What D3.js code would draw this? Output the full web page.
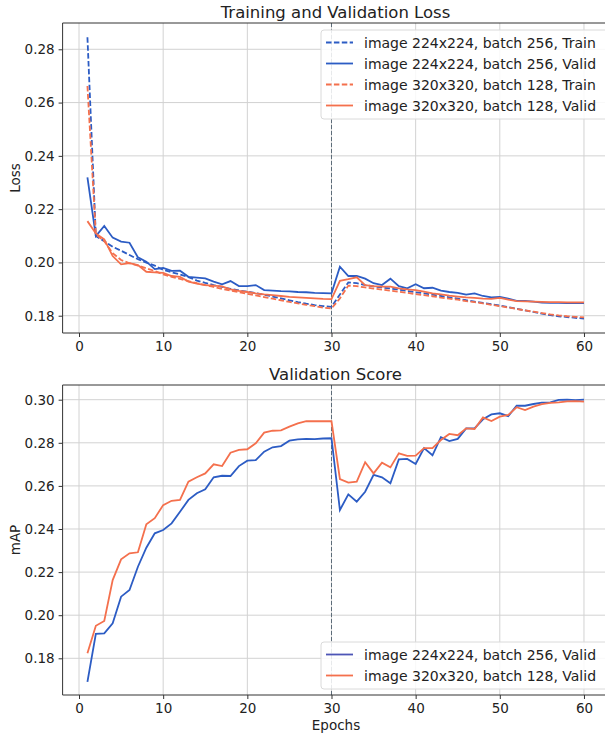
<!DOCTYPE html>
<html>
<head>
<meta charset="utf-8">
<script src="https://cdn.jsdelivr.net/npm/d3@7"></script>
<style>
  body { margin: 0; background: #fff; }
  svg { display: block; font-family: "DejaVu Sans", sans-serif; }
</style>
</head>
<body>
<div id="chart"></div>
<script>
// epochs 1..60
const epochs = d3.range(1, 61);

// loss curves
const train224 = [0.2845,0.2099,0.2080,0.2059,0.2044,0.2028,0.2012,0.1999,0.1988,0.1972,
  0.1963,0.1955,0.1945,0.1932,0.1923,0.1915,0.1908,0.1901,0.1895,0.1890,
  0.1885,0.1879,0.1872,0.1865,0.1858,0.1851,0.1845,0.1840,0.1836,0.1833,
  0.1880,0.1925,0.1922,0.1915,0.1910,0.1906,0.1902,0.1898,0.1893,0.1888,
  0.1884,0.1879,0.1874,0.1869,0.1864,0.1858,0.1853,0.1848,0.1843,0.1838,
  0.1832,0.1826,0.1820,0.1814,0.1808,0.1802,0.1798,0.1795,0.1792,0.1789];
const valid224 = [0.2319,0.2099,0.2137,0.2093,0.2078,0.2074,0.2019,0.2003,0.1975,0.1979,
  0.1968,0.1969,0.1946,0.1943,0.1940,0.1928,0.1918,0.1930,0.1911,0.1911,
  0.1915,0.1896,0.1894,0.1892,0.1891,0.1889,0.1888,0.1886,0.1885,0.1884,
  0.1984,0.1949,0.1949,0.1939,0.1922,0.1915,0.1939,0.1911,0.1903,0.1918,
  0.1903,0.1905,0.1894,0.1889,0.1886,0.1879,0.1884,0.1874,0.1869,0.1871,
  0.1864,0.1856,0.1856,0.1853,0.1849,0.1848,0.1848,0.1847,0.1847,0.1847];
const train320 = [0.2662,0.2105,0.2080,0.2035,0.2009,0.1997,0.1988,0.1978,0.1968,0.1955,
  0.1946,0.1938,0.1930,0.1922,0.1915,0.1908,0.1901,0.1894,0.1888,0.1882,
  0.1876,0.1870,0.1864,0.1858,0.1852,0.1846,0.1841,0.1836,0.1830,0.1827,
  0.1865,0.1913,0.1911,0.1906,0.1902,0.1898,0.1894,0.1890,0.1886,0.1881,
  0.1877,0.1873,0.1868,0.1864,0.1860,0.1855,0.1851,0.1846,0.1841,0.1836,
  0.1831,0.1825,0.1820,0.1815,0.1810,0.1805,0.1801,0.1798,0.1796,0.1794];
const valid320 = [0.2155,0.2109,0.2087,0.2024,0.1993,0.1997,0.1990,0.1965,0.1963,0.1961,
  0.1949,0.1946,0.1928,0.1920,0.1915,0.1913,0.1910,0.1899,0.1893,0.1889,
  0.1884,0.1880,0.1877,0.1874,0.1871,0.1869,0.1867,0.1865,0.1863,0.1862,
  0.1931,0.1937,0.1944,0.1915,0.1911,0.1909,0.1909,0.1903,0.1899,0.1896,
  0.1890,0.1884,0.1880,0.1875,0.1872,0.1869,0.1867,0.1864,0.1863,0.1867,
  0.1860,0.1855,0.1854,0.1853,0.1852,0.1851,0.1851,0.1850,0.1850,0.1850];

// mAP curves
const map224 = [0.1691,0.1913,0.1916,0.1962,0.2086,0.2117,0.2225,0.2313,0.2380,0.2395,
  0.2426,0.2480,0.2535,0.2566,0.2584,0.2640,0.2647,0.2646,0.2692,0.2717,
  0.2720,0.2759,0.2779,0.2785,0.2810,0.2816,0.2818,0.2817,0.2820,0.2821,
  0.2488,0.2561,0.2527,0.2573,0.2651,0.2640,0.2612,0.2723,0.2725,0.2702,
  0.2775,0.2742,0.2826,0.2808,0.2818,0.2867,0.2867,0.2909,0.2932,0.2937,
  0.2924,0.2972,0.2972,0.2980,0.2986,0.2988,0.2999,0.3000,0.2998,0.3000];
const map320 = [0.1823,0.1951,0.1973,0.2163,0.2259,0.2287,0.2292,0.2422,0.2450,0.2511,
  0.2531,0.2535,0.2620,0.2640,0.2658,0.2700,0.2692,0.2754,0.2767,0.2770,
  0.2798,0.2847,0.2856,0.2858,0.2875,0.2890,0.2901,0.2900,0.2900,0.2900,
  0.2632,0.2615,0.2620,0.2710,0.2658,0.2708,0.2686,0.2751,0.2739,0.2740,
  0.2775,0.2775,0.2813,0.2841,0.2835,0.2867,0.2864,0.2918,0.2901,0.2921,
  0.2929,0.2965,0.2952,0.2968,0.2979,0.2985,0.2988,0.2992,0.2993,0.2991];

const xTicks = [0, 10, 20, 30, 40, 50, 60];
const lossTicks = [0.18, 0.20, 0.22, 0.24, 0.26, 0.28];
const mapTicks = [0.18, 0.20, 0.22, 0.24, 0.26, 0.28, 0.30];
const lrDropEpoch = 30;

const blue = "#2c5cc4", orange = "#f4704d";

const W = 605, H = 736;
const svg = d3.select("#chart").append("svg").attr("width", W).attr("height", H);

const x = d3.scaleLinear().domain([-1.95, 62.95]).range([62.6, 608.8]);

function panel(opts) {
  const y = d3.scaleLinear().domain(opts.yDomain).range([opts.bottom, opts.top]);
  const g = svg.append("g");

  // grid
  g.append("g").selectAll("line").data(xTicks).join("line")
    .attr("x1", d => x(d)).attr("x2", d => x(d))
    .attr("y1", opts.top).attr("y2", opts.bottom)
    .attr("stroke", "#d2d2d2").attr("stroke-width", 1);
  g.append("g").selectAll("line").data(opts.yTicks).join("line")
    .attr("x1", x.range()[0]).attr("x2", x.range()[1])
    .attr("y1", d => y(d)).attr("y2", d => y(d))
    .attr("stroke", "#d2d2d2").attr("stroke-width", 1);

  // lr drop marker
  g.append("line")
    .attr("x1", x(lrDropEpoch)).attr("x2", x(lrDropEpoch))
    .attr("y1", opts.top).attr("y2", opts.bottom)
    .attr("stroke", "#5c6b78").attr("stroke-width", 1)
    .attr("stroke-dasharray", "4,2");

  const line = d3.line().x((d, i) => x(epochs[i])).y(d => y(d));
  opts.series.forEach(s => {
    g.append("path").datum(s.values)
      .attr("d", line)
      .attr("fill", "none")
      .attr("stroke", s.color)
      .attr("stroke-width", 1.8)
      .attr("stroke-dasharray", s.dash ? "5.5,2.4" : null);
  });

  // axes
  const xa = g.append("g").attr("transform", `translate(0,${opts.bottom})`)
    .call(d3.axisBottom(x).tickValues(xTicks).tickSize(4).tickPadding(4));
  const ya = g.append("g").attr("transform", `translate(${x.range()[0]},0)`)
    .call(d3.axisLeft(y).tickValues(opts.yTicks).tickFormat(d3.format(".2f")).tickSize(4).tickPadding(4));
  [xa, ya].forEach(a => {
    a.select(".domain").remove();
    a.selectAll("line").attr("stroke", "#333");
    a.selectAll("text").attr("font-size", 13.5).attr("fill", "#222")
      .attr("font-family", "DejaVu Sans");
  });

  // spines
  g.append("path")
    .attr("d", `M${x.range()[0]},${opts.top}H${x.range()[1]}M${x.range()[0]},${opts.top}V${opts.bottom}H${x.range()[1]}`)
    .attr("fill", "none").attr("stroke", "#333").attr("stroke-width", 1);

  // title and y label
  g.append("text").attr("x", 335.5).attr("y", opts.top - 5)
    .attr("text-anchor", "middle").attr("font-size", 16.5).attr("fill", "#222")
    .text(opts.title);
  g.append("text")
    .attr("transform", `translate(20,${(opts.top + opts.bottom) / 2}) rotate(-90)`)
    .attr("text-anchor", "middle").attr("font-size", 13.5).attr("fill", "#222")
    .text(opts.ylabel);

  // legend
  const lg = g.append("g").attr("transform", `translate(${opts.legend.x},${opts.legend.y})`);
  const n = opts.series.length;
  lg.append("rect").attr("x", 0).attr("y", 0)
    .attr("width", 300).attr("height", n * 21 + 5).attr("rx", 3)
    .attr("fill", "rgba(255,255,255,0.85)").attr("stroke", "#dadada");
  opts.series.forEach((s, i) => {
    const cy = 12.5 + i * 21;
    lg.append("line").attr("x1", 5).attr("x2", 32).attr("y1", cy).attr("y2", cy)
      .attr("stroke", s.legendColor || s.color).attr("stroke-width", 1.8)
      .attr("stroke-dasharray", s.dash ? "5.5,2.4" : null);
    lg.append("text").attr("x", 43).attr("y", cy + 5)
      .attr("font-size", 14).attr("fill", "#222").text(s.label);
  });
}

panel({
  title: "Training and Validation Loss", ylabel: "Loss",
  top: 23, bottom: 333, yDomain: [0.17351, 0.28987], yTicks: lossTicks,
  legend: { x: 321, y: 30 },
  series: [
    { label: "image 224x224, batch 256, Train", values: train224, color: blue, dash: true },
    { label: "image 224x224, batch 256, Valid", values: valid224, color: blue },
    { label: "image 320x320, batch 128, Train", values: train320, color: orange, dash: true },
    { label: "image 320x320, batch 128, Valid", values: valid320, color: orange }
  ]
});

panel({
  title: "Validation Score", ylabel: "mAP",
  top: 385, bottom: 695, yDomain: [0.16297, 0.30682], yTicks: mapTicks,
  legend: { x: 321, y: 642 },
  series: [
    { label: "image 224x224, batch 256, Valid", values: map224, color: blue, legendColor: "#4d55b6" },
    { label: "image 320x320, batch 128, Valid", values: map320, color: orange }
  ]
});

svg.append("text").attr("x", 336).attr("y", 730)
  .attr("text-anchor", "middle").attr("font-size", 13.5).attr("fill", "#222")
  .text("Epochs");
</script>
</body>
</html>
